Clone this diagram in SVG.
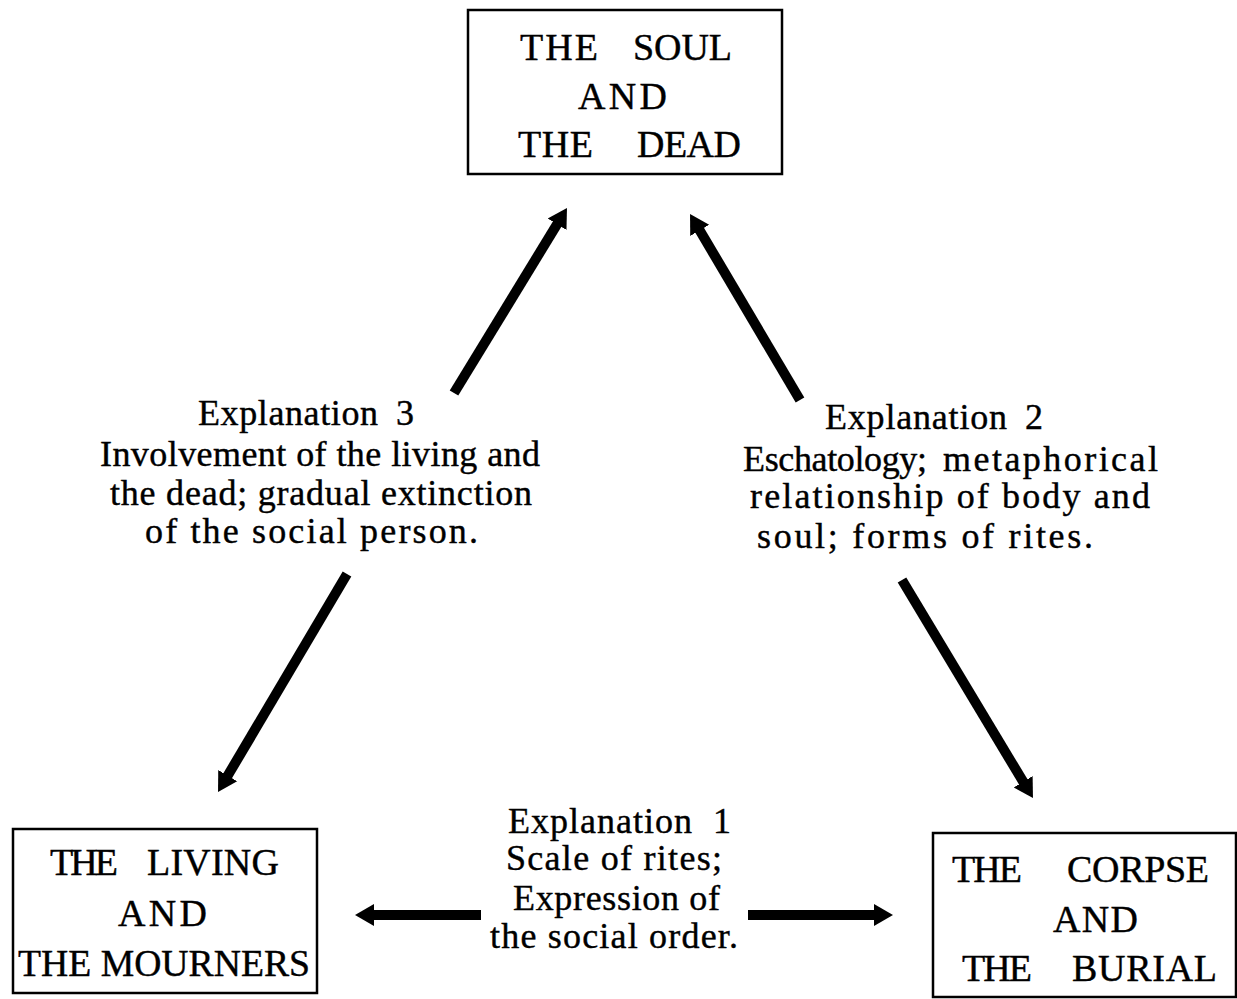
<svg xmlns="http://www.w3.org/2000/svg" width="1237" height="999" viewBox="0 0 1237 999">
<style>
.box{fill:#fff;stroke:#000;stroke-width:2.5}
.t{font-family:"Liberation Serif","Times New Roman",serif;fill:#000;stroke:#000;stroke-width:0.4}
.bt{font-size:38px}
.et{font-size:36px}
.arr{stroke:#000;stroke-width:10;fill:none}
</style>
<defs>
<marker id="ah" markerUnits="userSpaceOnUse" markerWidth="24" markerHeight="26" viewBox="0 -13 24 26" refX="1" refY="0" orient="auto">
<path d="M0,-11 L19,0 L0,11 Z" fill="#000"/>
</marker>
</defs>
<rect width="1237" height="999" fill="#fff"/>
<g id="connectors">
<line class="arr" x1="454" y1="393" x2="557.6" y2="223.4" marker-end="url(#ah)"/>
<line class="arr" x1="800" y1="400" x2="699.2" y2="229.5" marker-end="url(#ah)"/>
<line class="arr" x1="347" y1="574" x2="227.2" y2="776.5" marker-end="url(#ah)"/>
<line class="arr" x1="902" y1="580" x2="1023.7" y2="782.6" marker-end="url(#ah)"/>
<line class="arr" x1="481" y1="915" x2="373" y2="915" marker-end="url(#ah)"/>
<line class="arr" x1="748" y1="915" x2="875" y2="915" marker-end="url(#ah)"/>
</g>
<g id="soul">
<rect class="box" x="468" y="10" width="314" height="164"/>
<text class="t bt" x="520" y="60" textLength="78" lengthAdjust="spacing">THE</text>
<text class="t bt" x="633" y="60" textLength="99" lengthAdjust="spacing">SOUL</text>
<text class="t bt" x="578" y="109" textLength="89" lengthAdjust="spacing">AND</text>
<text class="t bt" x="518" y="157" textLength="75" lengthAdjust="spacing">THE</text>
<text class="t bt" x="637" y="157" textLength="104" lengthAdjust="spacing">DEAD</text>
</g>
<g id="living">
<rect class="box" x="13" y="829" width="304" height="164"/>
<text class="t bt" x="50" y="875" textLength="68" lengthAdjust="spacing">THE</text>
<text class="t bt" x="147" y="875" textLength="132" lengthAdjust="spacing">LIVING</text>
<text class="t bt" x="118" y="926" textLength="89" lengthAdjust="spacing">AND</text>
<text class="t bt" x="18" y="976" textLength="292" lengthAdjust="spacingAndGlyphs">THE MOURNERS</text>
</g>
<g id="corpse">
<rect class="box" x="933" y="833" width="303" height="164"/>
<text class="t bt" x="952" y="882" textLength="70" lengthAdjust="spacing">THE</text>
<text class="t bt" x="1067" y="882" textLength="142" lengthAdjust="spacing">CORPSE</text>
<text class="t bt" x="1053" y="932" textLength="85" lengthAdjust="spacing">AND</text>
<text class="t bt" x="962" y="981" textLength="70" lengthAdjust="spacing">THE</text>
<text class="t bt" x="1072" y="981" textLength="145" lengthAdjust="spacing">BURIAL</text>
</g>
<g id="explanation3">
<text class="t et" x="198" y="425" textLength="180" lengthAdjust="spacing">Explanation</text>
<text class="t et" x="396" y="425">3</text>
<text class="t et" x="100" y="466" textLength="440" lengthAdjust="spacing">Involvement of the living and</text>
<text class="t et" x="110" y="505" textLength="422" lengthAdjust="spacing">the dead; gradual extinction</text>
<text class="t et" x="145" y="543" textLength="333" lengthAdjust="spacing">of the social person.</text>
</g>
<g id="explanation2">
<text class="t et" x="825" y="429" textLength="182" lengthAdjust="spacing">Explanation</text>
<text class="t et" x="1025" y="429">2</text>
<text class="t et" x="743" y="471" textLength="184" lengthAdjust="spacing">Eschatology;</text>
<text class="t et" x="943" y="471" textLength="215" lengthAdjust="spacing">metaphorical</text>
<text class="t et" x="750" y="508" textLength="400" lengthAdjust="spacing">relationship of body and</text>
<text class="t et" x="757" y="548" textLength="336" lengthAdjust="spacing">soul; forms of rites.</text>
</g>
<g id="explanation1">
<text class="t et" x="508" y="833" textLength="184" lengthAdjust="spacing">Explanation</text>
<text class="t et" x="713" y="833">1</text>
<text class="t et" x="506" y="870" textLength="216" lengthAdjust="spacing">Scale of rites;</text>
<text class="t et" x="513" y="910" textLength="207" lengthAdjust="spacing">Expression of</text>
<text class="t et" x="490" y="948" textLength="248" lengthAdjust="spacing">the social order.</text>
</g>
</svg>
